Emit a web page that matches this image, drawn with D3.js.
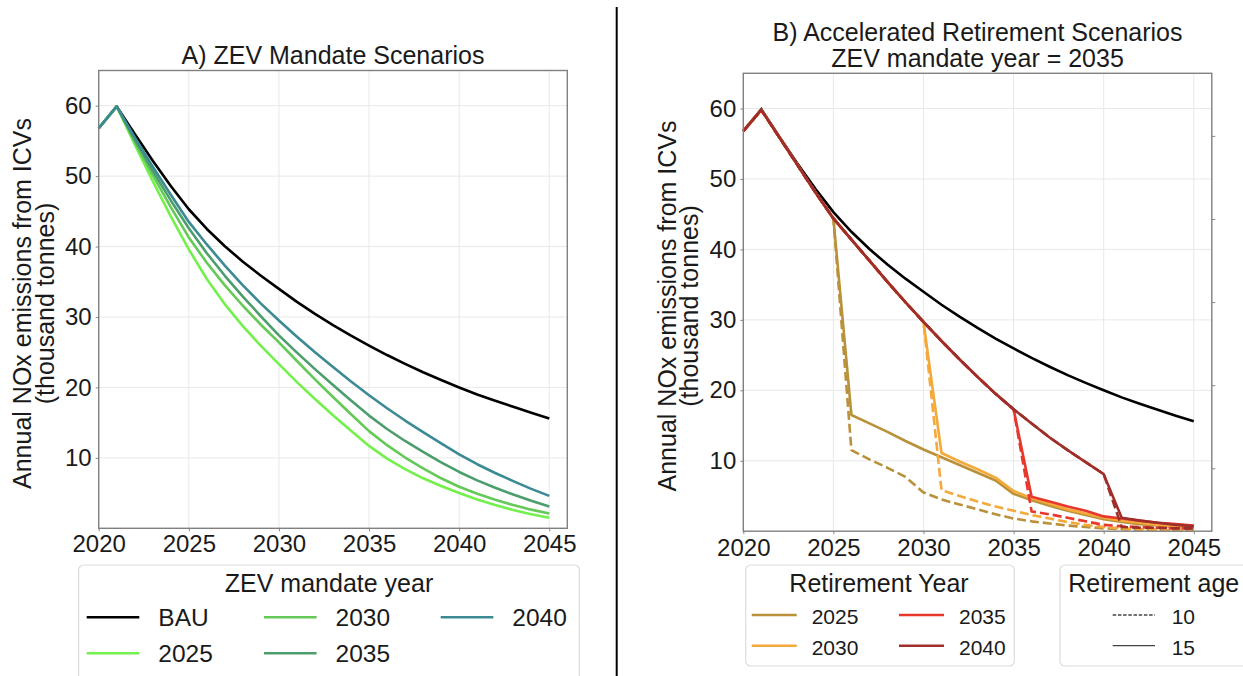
<!DOCTYPE html>
<html><head><meta charset="utf-8">
<script src="https://cdn.jsdelivr.net/npm/d3@7"></script>
<style>
html,body{margin:0;padding:0;background:#fff;}
svg{display:block;font-family:"Liberation Sans",Arial,Helvetica,sans-serif;}
</style></head><body>
<svg id="chart" width="1243" height="676"></svg>
<script>
// ---------------- DATA ----------------
const years = [2020,2021,2022,2023,2024,2025,2026,2027,2028,2029,2030,2031,2032,2033,2034,2035,2036,2037,2038,2039,2040,2041,2042,2043,2044,2045];

// Panel A: ZEV mandate scenarios (thousand tonnes NOx)
const bau     = [56.8,59.9,56.0,52.2,48.6,45.3,42.5,40.05,37.85,35.85,34.0,32.15,30.45,28.85,27.35,25.95,24.6,23.35,22.15,21.05,20.0,19.0,18.1,17.25,16.4,15.6];
const zev2025 = [56.8,59.9,54.5,49.3,44.3,39.6,35.4,31.8,28.7,25.9,23.3,20.75,18.35,16.05,13.85,11.7,9.9,8.4,7.1,6.0,5.0,4.1,3.3,2.6,2.0,1.5];
const zev2030 = [56.8,59.9,54.9,50.15,45.6,41.3,37.7,34.5,31.6,28.9,26.4,23.75,21.15,18.65,16.2,13.8,11.8,10.05,8.5,7.1,5.9,4.9,4.05,3.3,2.65,2.1];
const zev2035 = [56.8,59.9,55.2,50.75,46.55,42.6,39.05,35.85,32.9,30.1,27.4,24.95,22.6,20.35,18.15,16.0,14.1,12.4,10.85,9.35,8.0,6.8,5.75,4.8,3.9,3.1];
const zev2040 = [56.8,59.9,55.5,51.35,47.35,43.5,40.3,37.3,34.5,31.9,29.5,27.2,25.0,22.9,20.85,18.9,17.05,15.3,13.65,12.05,10.5,9.1,7.85,6.7,5.6,4.6];
const zevLabels = ["BAU","2025","2030","2035","2040"];
const zevColors = ["#000000","#74f04c","#64c957","#4c9e6c","#3b8a94"];

// Panel B: accelerated retirement, ZEV mandate year = 2035
const retBase = [56.8,59.8,55.9,52.0,48.1,44.4,41.4,38.4,35.4,32.5,29.7,27.0,24.4,21.9,19.5,17.3,15.3,13.3,11.5,9.8,8.1]; // 2020..2040
const ret2025Age15 = [16.5,15.3,14.1,12.8,11.6,10.5,9.4,8.3,7.2,5.3,4.4,3.6,2.9,2.3,1.7,1.3,1.0,0.8,0.6,0.4]; // 2026..2045
const ret2025Age10 = [11.5,10.2,9.0,7.7,5.5,4.5,3.8,3.1,2.4,1.8,1.4,1.1,0.8,0.6,0.4,0.3,0.2,0.2,0.1,0.1];
const ret2030Age15 = [11.1,9.9,8.8,7.6,5.7,4.7,3.9,3.1,2.5,1.9,1.5,1.2,0.9,0.7,0.5]; // 2031..2045
const ret2030Age10 = [5.8,5.0,4.2,3.5,2.9,2.3,1.8,1.3,0.9,0.6,0.4,0.3,0.2,0.1,0.1];
const ret2035Age15 = [4.9,4.2,3.5,2.9,2.1,1.8,1.5,1.2,1.0,0.8]; // 2036..2045
const ret2035Age10 = [2.8,2.4,1.9,1.4,0.9,0.7,0.6,0.5,0.4,0.4];
const ret2040Age15 = [1.9,1.5,1.2,0.9,0.7]; // 2041..2045
const ret2040Age10 = [0.6,0.5,0.5,0.4,0.4];
const retYears  = [2025,2030,2035,2040];
const retColors = ["#b8913a","#f5a93a","#e8372c","#9e2f2a"];
const retAges   = ["10","15"];

const xTicks = [2020,2025,2030,2035,2040,2045];
const yTicks = [10,20,30,40,50,60];
const twinTicks = [1,2,3,4,5];

// ---------------- DRAW ----------------
const svg = d3.select("#chart");
const TXT = "#1a1a1a";

function frame(xS, yS, tickPad) {
  const [x0,x1] = xS.range(), [y0,y1] = yS.range();
  const g = svg.append("g");
  g.append("g").selectAll("line").data(xTicks).join("line")
    .attr("x1",d=>xS(d)).attr("x2",d=>xS(d)).attr("y1",y0).attr("y2",y1)
    .attr("stroke","#e8e8e8").attr("stroke-width",1);
  g.append("g").selectAll("line").data(yTicks).join("line")
    .attr("y1",d=>yS(d)).attr("y2",d=>yS(d)).attr("x1",x0).attr("x2",x1)
    .attr("stroke","#e8e8e8").attr("stroke-width",1);
  const gx = g.append("g").attr("transform",`translate(0,${y0})`)
    .call(d3.axisBottom(xS).tickValues(xTicks).tickFormat(d3.format("d")).tickSize(3).tickPadding(tickPad));
  gx.select(".domain").remove();
  gx.selectAll("line").attr("stroke","#888");
  gx.selectAll("text").attr("font-size",24).attr("fill",TXT).attr("font-family",null);
  const gy = g.append("g").attr("transform",`translate(${x0},0)`)
    .call(d3.axisLeft(yS).tickValues(yTicks).tickSize(3).tickPadding(4));
  gy.select(".domain").remove();
  gy.selectAll("line").attr("stroke","#888");
  gy.selectAll("text").attr("font-size",24).attr("fill",TXT).attr("font-family",null);
  return g;
}
function border(xS, yS) {
  const [x0,x1] = xS.range(), [y0,y1] = yS.range();
  svg.append("rect").attr("x",x0).attr("y",y1).attr("width",x1-x0).attr("height",y0-y1)
    .attr("fill","none").attr("stroke","#808080").attr("stroke-width",1.4);
}
function ylabel(xBase1, xBase2, yc) {
  [["Annual NOx emissions from ICVs",xBase1],["(thousand tonnes)",xBase2]].forEach(([t,x])=>{
    svg.append("text").attr("transform",`translate(${x},${yc}) rotate(-90)`)
      .attr("text-anchor","middle").attr("font-size",25).attr("fill",TXT).text(t);
  });
}

// ----- Panel A -----
const xA = d3.scaleLinear().domain([2020,2046]).range([98.7,567.3]);
const yA = d3.scaleLinear().domain([0,65]).range([528.3,70.5]);
frame(xA, yA, 4);
const lineA = d3.line().x((d,i)=>xA(years[i])).y(d=>yA(d));
const zevSeries = [bau, zev2025, zev2030, zev2035, zev2040];
svg.append("g").selectAll("path").data(zevSeries).join("path")
  .attr("d", d=>lineA(d)).attr("fill","none")
  .attr("stroke",(d,i)=>zevColors[i]).attr("stroke-width",2.6)
  .attr("stroke-linejoin","round");
border(xA, yA);
svg.append("text").attr("x",(xA.range()[0]+xA.range()[1])/2).attr("y",64)
  .attr("text-anchor","middle").attr("font-size",25).attr("fill",TXT).text("A) ZEV Mandate Scenarios");
ylabel(31, 54, 303.5);

// Panel A legend
const legA = svg.append("g");
legA.append("rect").attr("x",78.6).attr("y",565).attr("width",500.8).attr("height",130).attr("rx",5)
  .attr("fill","#fff").attr("stroke","#dcdcdc").attr("stroke-width",1.2);
legA.append("text").attr("x",329).attr("y",591.7).attr("text-anchor","middle")
  .attr("font-size",25).attr("fill",TXT).text("ZEV mandate year");
const colXA = [86.7,264,440.7], rowYA = [617.3,653.3];
zevLabels.forEach((lab,i)=>{
  const c = Math.floor(i/2), r = i%2;
  legA.append("line").attr("x1",colXA[c]).attr("x2",colXA[c]+52.6).attr("y1",rowYA[r]).attr("y2",rowYA[r])
    .attr("stroke",zevColors[i]).attr("stroke-width",2.6);
  legA.append("text").attr("x",colXA[c]+71.6).attr("y",rowYA[r]+8.8)
    .attr("font-size",24.5).attr("fill",TXT).text(lab);
});

// separator
svg.append("line").attr("x1",616.7).attr("x2",616.7).attr("y1",7).attr("y2",676)
  .attr("stroke","#000").attr("stroke-width",2);

// ----- Panel B -----
const xB = d3.scaleLinear().domain([2020,2046]).range([743.3,1211.8]);
const yB = d3.scaleLinear().domain([0,65]).range([531.2,73.3]);
frame(xB, yB, 5);
// twin-axis ticks on the right spine (unlabelled)
const twin = d3.scaleLinear().domain([0.243,5.753]).range([531.2,73.3]);
const gt = svg.append("g").attr("transform",`translate(${xB.range()[1]},0)`)
  .call(d3.axisRight(twin).tickValues(twinTicks).tickFormat("").tickSize(3.5));
gt.select(".domain").remove();
gt.selectAll("line").attr("stroke","#888");

const lineB = d3.line().x((d,i)=>xB(years[i])).y(d=>yB(d));
svg.append("path").attr("d",lineB(bau)).attr("fill","none").attr("stroke","#000").attr("stroke-width",2.6);
const post15 = [ret2025Age15, ret2030Age15, ret2035Age15, ret2040Age15];
const post10 = [ret2025Age10, ret2030Age10, ret2035Age10, ret2040Age10];
retYears.forEach((ry,k)=>{
  const pre = retBase.slice(0, ry-2020+1);
  const s10 = pre.concat(post10[k]);
  const s15 = pre.concat(post15[k]);
  svg.append("path").attr("d",lineB(s10)).attr("fill","none").attr("stroke",retColors[k])
    .attr("stroke-width",2.6).attr("stroke-dasharray","9,4").attr("stroke-linejoin","round");
  svg.append("path").attr("d",lineB(s15)).attr("fill","none").attr("stroke",retColors[k])
    .attr("stroke-width",2.6).attr("stroke-linejoin","round");
});
border(xB, yB);
svg.append("text").attr("x",(xB.range()[0]+xB.range()[1])/2).attr("y",40.5)
  .attr("text-anchor","middle").attr("font-size",25).attr("fill",TXT).text("B) Accelerated Retirement Scenarios");
svg.append("text").attr("x",(xB.range()[0]+xB.range()[1])/2).attr("y",67)
  .attr("text-anchor","middle").attr("font-size",25).attr("fill",TXT).text("ZEV mandate year = 2035");
ylabel(675.5, 698, 306);

// Panel B legends
const legB = svg.append("g");
legB.append("rect").attr("x",745.7).attr("y",565).attr("width",268.6).attr("height",101).attr("rx",5)
  .attr("fill","#fff").attr("stroke","#dcdcdc").attr("stroke-width",1.2);
legB.append("text").attr("x",879).attr("y",591.7).attr("text-anchor","middle")
  .attr("font-size",25).attr("fill",TXT).text("Retirement Year");
const colXB = [751.7,899], rowYB = [615,645.7];
retYears.forEach((ry,i)=>{
  const c = Math.floor(i/2), r = i%2;
  legB.append("line").attr("x1",colXB[c]).attr("x2",colXB[c]+45).attr("y1",rowYB[r]).attr("y2",rowYB[r])
    .attr("stroke",retColors[i]).attr("stroke-width",2.6);
  legB.append("text").attr("x",colXB[c]+60).attr("y",rowYB[r]+8.8)
    .attr("font-size",21).attr("fill",TXT).text(String(ry));
});
const legC = svg.append("g");
legC.append("rect").attr("x",1060).attr("y",565).attr("width",200).attr("height",101).attr("rx",5)
  .attr("fill","#fff").attr("stroke","#dcdcdc").attr("stroke-width",1.2);
legC.append("text").attr("x",1068.3).attr("y",591.7)
  .attr("font-size",25).attr("fill",TXT).text("Retirement age");
retAges.forEach((a,i)=>{
  legC.append("line").attr("x1",1112.7).attr("x2",1155).attr("y1",rowYB[i]).attr("y2",rowYB[i])
    .attr("stroke","#444").attr("stroke-width",1.3).attr("stroke-dasharray", i===0 ? "3.5,1.7" : null);
  legC.append("text").attr("x",1171.7).attr("y",rowYB[i]+8.8)
    .attr("font-size",21).attr("fill",TXT).text(a);
});
</script>
</body></html>
